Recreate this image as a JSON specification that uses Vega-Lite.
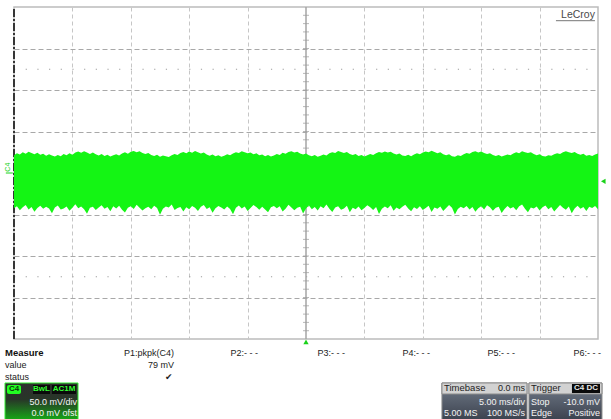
{
"$schema": "https://vega.github.io/schema/vega-lite/v6.json",
"width": 584, "height": 332,
"autosize": {"type": "none"},
"padding": {"left": 14, "top": 7, "right": 13, "bottom": 80},
"background": "white",
"config": {
  "font": "Liberation Sans",
  "view": {"stroke": "#bcbcbc", "strokeWidth": 1.5},
  "axis": {"domain": false, "ticks": false, "labels": false, "grid": false, "titleColor": "transparent"}
},
"layer": [
{
  "data": {"values": [{"v": 125}, {"v": -125}]},
  "mark": {"type": "rule", "color": "#9c9c9c", "strokeDash": [1.2, 10.48], "strokeWidth": 1},
  "encoding": {
    "x": {"datum": -25, "type": "quantitative", "scale": {"domain": [-25, 25], "nice": false, "zero": false},
          "axis": {"values": [-20, -15, -10, -5, 5, 10, 15, 20], "grid": true, "gridDash": [4, 3], "gridColor": "#c6c6c6", "gridWidth": 1, "title": null}},
    "x2": {"datum": 25},
    "y": {"field": "v", "type": "quantitative", "scale": {"domain": [-200, 200], "nice": false, "zero": false},
          "axis": {"values": [-150, -100, -50, 0, 50, 100, 150], "grid": true, "gridDash": [5, 3], "gridColor": "#a8a8a8", "gridWidth": 1, "title": null}}
  }
},
{
  "data": {"values": [{}]},
  "mark": {"type": "rule", "color": "#a4a4a4", "strokeWidth": 1.5},
  "encoding": {
    "x": {"datum": 0, "type": "quantitative", "scale": {"domain": [-25, 25], "nice": false, "zero": false}},
    "y": {"datum": -200, "type": "quantitative", "scale": {"domain": [-200, 200], "nice": false, "zero": false}},
    "y2": {"datum": 200}
  }
},
{
  "data": {"values": [{"v":-190},{"v":-180},{"v":-170},{"v":-160},{"v":-150},{"v":-140},{"v":-130},{"v":-120},{"v":-110},{"v":-100},{"v":-90},{"v":-80},{"v":-70},{"v":-60},{"v":-50},{"v":-40},{"v":-30},{"v":-20},{"v":-10},{"v":0},{"v":10},{"v":20},{"v":30},{"v":40},{"v":50},{"v":60},{"v":70},{"v":80},{"v":90},{"v":100},{"v":110},{"v":120},{"v":130},{"v":140},{"v":150},{"v":160},{"v":170},{"v":180},{"v":190}]},
  "mark": {"type": "tick", "orient": "horizontal", "size": 6, "thickness": 1, "color": "#9a9a9a"},
  "encoding": {
    "x": {"datum": 0, "type": "quantitative", "scale": {"domain": [-25, 25], "nice": false, "zero": false}},
    "y": {"field": "v", "type": "quantitative", "scale": {"domain": [-200, 200], "nice": false, "zero": false}}
  }
},
{
  "data": {"values": [{}]},
  "mark": {"type": "rule", "color": "#111111", "strokeWidth": 1.6, "strokeDash": [8, 2, 2, 2]},
  "encoding": {
    "x": {"datum": -25, "type": "quantitative", "scale": {"domain": [-25, 25], "nice": false, "zero": false}},
    "y": {"datum": -200, "type": "quantitative", "scale": {"domain": [-200, 200], "nice": false, "zero": false}},
    "y2": {"datum": 200}
  }
},
{
  "data": {"values": [
{"t":-25,"hi":21.5,"lo":-42.5},{"t":-24.75,"hi":23.8,"lo":-40.1},{"t":-24.5,"hi":22.4,"lo":-44.8},{"t":-24.25,"hi":24.9,"lo":-41.3},{"t":-24,"hi":23.1,"lo":-38.6},
{"t":-23.75,"hi":25.6,"lo":-43.9},{"t":-23.5,"hi":24.0,"lo":-41.0},{"t":-23.25,"hi":22.7,"lo":-46.7},{"t":-23,"hi":24.4,"lo":-42.2},{"t":-22.75,"hi":21.9,"lo":-39.4},
{"t":-22.5,"hi":23.2,"lo":-43.1},{"t":-22.25,"hi":20.8,"lo":-40.6},{"t":-22,"hi":22.5,"lo":-42.9},{"t":-21.75,"hi":21.0,"lo":-48.4},{"t":-21.5,"hi":19.8,"lo":-41.7},
{"t":-21.25,"hi":21.6,"lo":-39.2},{"t":-21,"hi":20.2,"lo":-44.0},{"t":-20.75,"hi":22.9,"lo":-42.8},{"t":-20.5,"hi":21.4,"lo":-40.3},{"t":-20.25,"hi":23.7,"lo":-45.5},
{"t":-20,"hi":22.1,"lo":-41.9},{"t":-19.75,"hi":24.6,"lo":-37.8},{"t":-19.5,"hi":25.9,"lo":-42.6},{"t":-19.25,"hi":24.3,"lo":-40.4},{"t":-19,"hi":26.2,"lo":-43.7},
{"t":-18.75,"hi":24.8,"lo":-49.1},{"t":-18.5,"hi":23.0,"lo":-42.0},{"t":-18.25,"hi":24.7,"lo":-40.8},{"t":-18,"hi":22.6,"lo":-44.6},{"t":-17.75,"hi":21.2,"lo":-41.5},
{"t":-17.5,"hi":22.8,"lo":-38.9},{"t":-17.25,"hi":20.5,"lo":-43.2},{"t":-17,"hi":21.9,"lo":-41.1},{"t":-16.75,"hi":19.9,"lo":-46.0},{"t":-16.5,"hi":21.3,"lo":-40.2},
{"t":-16.25,"hi":22.7,"lo":-42.7},{"t":-16,"hi":21.0,"lo":-39.5},{"t":-15.75,"hi":23.4,"lo":-44.3},{"t":-15.5,"hi":24.9,"lo":-47.6},{"t":-15.25,"hi":23.3,"lo":-41.8},
{"t":-15,"hi":25.5,"lo":-40.0},{"t":-14.75,"hi":26.6,"lo":-43.4},{"t":-14.5,"hi":24.9,"lo":-38.3},{"t":-14.25,"hi":26.1,"lo":-41.9},{"t":-14,"hi":24.2,"lo":-45.1},
{"t":-13.75,"hi":22.9,"lo":-42.4},{"t":-13.5,"hi":24.1,"lo":-40.7},{"t":-13.25,"hi":21.8,"lo":-43.8},{"t":-13,"hi":20.6,"lo":-39.6},{"t":-12.75,"hi":22.0,"lo":-42.1},
{"t":-12.5,"hi":19.7,"lo":-50.2},{"t":-12.25,"hi":21.1,"lo":-43.0},{"t":-12,"hi":20.3,"lo":-40.5},{"t":-11.75,"hi":19.4,"lo":-41.7},{"t":-11.5,"hi":21.5,"lo":-37.9},
{"t":-11.25,"hi":22.9,"lo":-44.5},{"t":-11,"hi":21.7,"lo":-42.3},{"t":-10.75,"hi":24.0,"lo":-40.9},{"t":-10.5,"hi":25.3,"lo":-46.4},{"t":-10.25,"hi":23.9,"lo":-41.4},
{"t":-10,"hi":25.8,"lo":-43.6},{"t":-9.75,"hi":24.5,"lo":-39.8},{"t":-9.5,"hi":26.4,"lo":-42.0},{"t":-9.25,"hi":25.0,"lo":-45.8},{"t":-9,"hi":23.4,"lo":-40.6},
{"t":-8.75,"hi":24.6,"lo":-38.5},{"t":-8.5,"hi":22.2,"lo":-43.3},{"t":-8.25,"hi":20.9,"lo":-41.2},{"t":-8,"hi":22.3,"lo":-47.9},{"t":-7.75,"hi":20.1,"lo":-42.5},
{"t":-7.5,"hi":21.4,"lo":-39.9},{"t":-7.25,"hi":19.6,"lo":-41.6},{"t":-7,"hi":20.8,"lo":-44.1},{"t":-6.75,"hi":22.6,"lo":-40.4},{"t":-6.5,"hi":21.5,"lo":-43.5},
{"t":-6.25,"hi":23.6,"lo":-49.6},{"t":-6,"hi":25.0,"lo":-41.8},{"t":-5.75,"hi":24.1,"lo":-39.1},{"t":-5.5,"hi":26.3,"lo":-42.9},{"t":-5.25,"hi":25.1,"lo":-40.3},
{"t":-5,"hi":23.9,"lo":-45.7},{"t":-4.75,"hi":24.8,"lo":-42.2},{"t":-4.5,"hi":22.5,"lo":-38.7},{"t":-4.25,"hi":23.7,"lo":-41.0},{"t":-4,"hi":21.3,"lo":-44.4},
{"t":-3.75,"hi":22.4,"lo":-40.8},{"t":-3.5,"hi":20.2,"lo":-43.9},{"t":-3.25,"hi":21.6,"lo":-47.2},{"t":-3,"hi":19.8,"lo":-41.3},{"t":-2.75,"hi":21.2,"lo":-39.7},
{"t":-2.5,"hi":22.9,"lo":-42.6},{"t":-2.25,"hi":21.8,"lo":-40.1},{"t":-2,"hi":24.3,"lo":-46.5},{"t":-1.75,"hi":23.1,"lo":-43.2},{"t":-1.5,"hi":25.4,"lo":-38.4},
{"t":-1.25,"hi":26.2,"lo":-41.5},{"t":-1,"hi":24.6,"lo":-44.9},{"t":-0.75,"hi":25.7,"lo":-42.0},{"t":-0.5,"hi":23.5,"lo":-40.6},{"t":-0.25,"hi":22.3,"lo":-48.8},
{"t":0,"hi":23.6,"lo":-42.7},{"t":0.25,"hi":21.4,"lo":-39.3},{"t":0.5,"hi":20.3,"lo":-43.7},{"t":0.75,"hi":21.7,"lo":-41.1},{"t":1,"hi":19.5,"lo":-45.3},
{"t":1.25,"hi":20.9,"lo":-40.2},{"t":1.5,"hi":22.4,"lo":-42.4},{"t":1.75,"hi":21.2,"lo":-38.1},{"t":2,"hi":23.8,"lo":-43.0},{"t":2.25,"hi":25.1,"lo":-46.9},
{"t":2.5,"hi":24.0,"lo":-41.6},{"t":2.75,"hi":26.5,"lo":-40.0},{"t":3,"hi":25.2,"lo":-44.2},{"t":3.25,"hi":24.1,"lo":-42.9},{"t":3.5,"hi":25.3,"lo":-39.6},
{"t":3.75,"hi":23.0,"lo":-47.4},{"t":4,"hi":21.7,"lo":-41.9},{"t":4.25,"hi":22.9,"lo":-43.6},{"t":4.5,"hi":20.6,"lo":-40.5},{"t":4.75,"hi":21.8,"lo":-45.0},
{"t":5,"hi":20.0,"lo":-42.1},{"t":5.25,"hi":21.5,"lo":-38.8},{"t":5.5,"hi":22.8,"lo":-41.4},{"t":5.75,"hi":21.6,"lo":-44.6},{"t":6,"hi":23.9,"lo":-40.9},
{"t":6.25,"hi":25.2,"lo":-49.3},{"t":6.5,"hi":24.3,"lo":-43.1},{"t":6.75,"hi":26.0,"lo":-40.3},{"t":7,"hi":24.7,"lo":-42.5},{"t":7.25,"hi":25.6,"lo":-39.0},
{"t":7.5,"hi":23.6,"lo":-45.6},{"t":7.75,"hi":22.4,"lo":-41.7},{"t":8,"hi":23.5,"lo":-43.8},{"t":8.25,"hi":21.2,"lo":-40.7},{"t":8.5,"hi":20.4,"lo":-38.2},
{"t":8.75,"hi":21.9,"lo":-42.8},{"t":9,"hi":20.1,"lo":-46.1},{"t":9.25,"hi":22.3,"lo":-41.2},{"t":9.5,"hi":23.7,"lo":-43.4},{"t":9.75,"hi":22.6,"lo":-40.0},
{"t":10,"hi":24.8,"lo":-44.7},{"t":10.25,"hi":26.0,"lo":-42.3},{"t":10.5,"hi":24.9,"lo":-39.4},{"t":10.75,"hi":26.7,"lo":-47.0},{"t":11,"hi":25.3,"lo":-41.5},
{"t":11.25,"hi":23.8,"lo":-43.0},{"t":11.5,"hi":24.9,"lo":-40.4},{"t":11.75,"hi":22.6,"lo":-45.9},{"t":12,"hi":21.3,"lo":-42.2},{"t":12.25,"hi":22.5,"lo":-38.6},
{"t":12.5,"hi":20.2,"lo":-41.8},{"t":12.75,"hi":19.7,"lo":-50.0},{"t":13,"hi":21.4,"lo":-43.3},{"t":13.25,"hi":20.6,"lo":-40.8},{"t":13.5,"hi":22.7,"lo":-42.6},
{"t":13.75,"hi":24.1,"lo":-39.7},{"t":14,"hi":23.2,"lo":-44.0},{"t":14.25,"hi":25.4,"lo":-41.0},{"t":14.5,"hi":26.1,"lo":-46.6},{"t":14.75,"hi":24.7,"lo":-42.4},
{"t":15,"hi":25.9,"lo":-40.1},{"t":15.25,"hi":24.2,"lo":-43.9},{"t":15.5,"hi":22.9,"lo":-38.9},{"t":15.75,"hi":23.9,"lo":-41.3},{"t":16,"hi":21.6,"lo":-45.4},
{"t":16.25,"hi":20.5,"lo":-42.0},{"t":16.5,"hi":21.8,"lo":-40.6},{"t":16.75,"hi":19.9,"lo":-48.1},{"t":17,"hi":21.0,"lo":-43.5},{"t":17.25,"hi":22.4,"lo":-39.8},
{"t":17.5,"hi":21.3,"lo":-42.7},{"t":17.75,"hi":23.6,"lo":-41.1},{"t":18,"hi":24.9,"lo":-44.8},{"t":18.25,"hi":23.8,"lo":-40.2},{"t":18.5,"hi":26.3,"lo":-38.0},
{"t":18.75,"hi":25.0,"lo":-43.2},{"t":19,"hi":24.0,"lo":-47.3},{"t":19.25,"hi":25.1,"lo":-41.7},{"t":19.5,"hi":22.8,"lo":-42.9},{"t":19.75,"hi":21.5,"lo":-40.5},
{"t":20,"hi":22.6,"lo":-45.2},{"t":20.25,"hi":20.4,"lo":-41.4},{"t":20.5,"hi":19.8,"lo":-39.2},{"t":20.75,"hi":21.3,"lo":-43.7},{"t":21,"hi":20.7,"lo":-40.9},
{"t":21.25,"hi":22.5,"lo":-46.3},{"t":21.5,"hi":23.9,"lo":-42.5},{"t":21.75,"hi":22.8,"lo":-38.7},{"t":22,"hi":25.0,"lo":-41.9},{"t":22.25,"hi":26.2,"lo":-44.3},
{"t":22.5,"hi":25.1,"lo":-40.4},{"t":22.75,"hi":24.0,"lo":-48.6},{"t":23,"hi":25.4,"lo":-42.8},{"t":23.25,"hi":23.3,"lo":-39.5},{"t":23.5,"hi":22.1,"lo":-43.1},
{"t":23.75,"hi":23.2,"lo":-41.0},{"t":24,"hi":20.9,"lo":-45.8},{"t":24.25,"hi":21.8,"lo":-40.7},{"t":24.5,"hi":20.6,"lo":-42.2},{"t":24.75,"hi":22.4,"lo":-39.9},
{"t":25,"hi":23.5,"lo":-43.6}
  ]},
  "mark": {"type": "area", "color": "#14f514", "opacity": 1, "interpolate": "linear"},
  "encoding": {
    "x": {"field": "t", "type": "quantitative", "scale": {"domain": [-25, 25], "nice": false, "zero": false}},
    "y": {"field": "hi", "type": "quantitative", "scale": {"domain": [-200, 200], "nice": false, "zero": false}},
    "y2": {"field": "lo"}
  }
},
{
  "data": {"values": [{"t": -25.55, "v": 7, "label": "C4"}]},
  "mark": {"type": "text", "angle": 270, "fontSize": 7, "color": "#1ad21a", "align": "center", "baseline": "middle"},
  "encoding": {
    "x": {"field": "t", "type": "quantitative", "scale": {"domain": [-25, 25], "nice": false, "zero": false}},
    "y": {"field": "v", "type": "quantitative", "scale": {"domain": [-200, 200], "nice": false, "zero": false}},
    "text": {"field": "label"}
  }
},
{
  "data": {"values": [{}]},
  "mark": {"type": "rule", "color": "#1ad21a", "strokeWidth": 1},
  "encoding": {
    "x": {"datum": -25.7, "type": "quantitative", "scale": {"domain": [-25, 25], "nice": false, "zero": false}},
    "x2": {"datum": -25.1},
    "y": {"datum": 0, "type": "quantitative", "scale": {"domain": [-200, 200], "nice": false, "zero": false}}
  }
},
{
  "data": {"values": [{"t": 25.45, "v": -10, "s": "triangle-left"}, {"t": 0, "v": -203.5, "s": "triangle-up"}]},
  "mark": {"type": "point", "filled": true, "size": 28, "color": "#1ad21a", "opacity": 1},
  "encoding": {
    "x": {"field": "t", "type": "quantitative", "scale": {"domain": [-25, 25], "nice": false, "zero": false}},
    "y": {"field": "v", "type": "quantitative", "scale": {"domain": [-200, 200], "nice": false, "zero": false}},
    "shape": {"field": "s", "type": "nominal", "scale": {"domain": ["triangle-left", "triangle-up"], "range": ["triangle-left", "triangle-up"]}, "legend": null}
  }
},
{
  "data": {"values": [{"t": 24.74, "v": 190.4, "label": "LeCroy"}]},
  "mark": {"type": "text", "fontSize": 10.5, "color": "#4a4a4a", "align": "right", "baseline": "middle"},
  "encoding": {
    "x": {"field": "t", "type": "quantitative", "scale": {"domain": [-25, 25], "nice": false, "zero": false}},
    "y": {"field": "v", "type": "quantitative", "scale": {"domain": [-200, 200], "nice": false, "zero": false}},
    "text": {"field": "label"}
  }
},
{
  "data": {"values": [{}]},
  "mark": {"type": "rule", "color": "#777777", "strokeWidth": 1},
  "encoding": {
    "x": {"datum": 21.4, "type": "quantitative", "scale": {"domain": [-25, 25], "nice": false, "zero": false}},
    "x2": {"datum": 24.74},
    "y": {"datum": 183.5, "type": "quantitative", "scale": {"domain": [-200, 200], "nice": false, "zero": false}}
  }
},
{
  "data": {"values": [{"t": -25.77, "v": -216.9, "label": "Measure"}]},
  "mark": {"type": "text", "fontSize": 9.5, "fontWeight": "bold", "color": "#111111", "align": "left", "baseline": "middle"},
  "encoding": {
    "x": {"field": "t", "type": "quantitative", "scale": {"domain": [-25, 25], "nice": false, "zero": false}},
    "y": {"field": "v", "type": "quantitative", "scale": {"domain": [-200, 200], "nice": false, "zero": false}},
    "text": {"field": "label"}
  }
},
{
  "data": {"values": [{"t": -25.77, "v": -231.3, "label": "value"}, {"t": -25.77, "v": -245.8, "label": "status"}]},
  "mark": {"type": "text", "fontSize": 9, "color": "#222222", "align": "left", "baseline": "middle"},
  "encoding": {
    "x": {"field": "t", "type": "quantitative", "scale": {"domain": [-25, 25], "nice": false, "zero": false}},
    "y": {"field": "v", "type": "quantitative", "scale": {"domain": [-200, 200], "nice": false, "zero": false}},
    "text": {"field": "label"}
  }
},
{
  "data": {"values": [
    {"t": -11.3, "v": -216.9, "label": "P1:pkpk(C4)"},
    {"t": -11.3, "v": -231.3, "label": "79 mV"},
    {"t": -4.11, "v": -216.9, "label": "P2:- - -"},
    {"t": 3.34, "v": -216.9, "label": "P3:- - -"},
    {"t": 10.62, "v": -216.9, "label": "P4:- - -"},
    {"t": 17.89, "v": -216.9, "label": "P5:- - -"},
    {"t": 25.26, "v": -216.9, "label": "P6:- - -"}
  ]},
  "mark": {"type": "text", "fontSize": 9, "color": "#222222", "align": "right", "baseline": "middle"},
  "encoding": {
    "x": {"field": "t", "type": "quantitative", "scale": {"domain": [-25, 25], "nice": false, "zero": false}},
    "y": {"field": "v", "type": "quantitative", "scale": {"domain": [-200, 200], "nice": false, "zero": false}},
    "text": {"field": "label"}
  }
},
{
  "data": {"values": [{"t": -11.75, "v": -245.8, "label": "✔"}]},
  "mark": {"type": "text", "font": "DejaVu Sans", "fontSize": 9, "color": "#222222", "align": "center", "baseline": "middle"},
  "encoding": {
    "x": {"field": "t", "type": "quantitative", "scale": {"domain": [-25, 25], "nice": false, "zero": false}},
    "y": {"field": "v", "type": "quantitative", "scale": {"domain": [-200, 200], "nice": false, "zero": false}},
    "text": {"field": "label"}
  }
},
{
  "data": {"values": [{"t": -25.77, "t2": -19.52, "v": -253, "v2": -297}]},
  "mark": {"type": "rect", "stroke": "#33ee33", "strokeWidth": 1,
    "fill": {"gradient": "linear", "x1": 0, "y1": 0, "x2": 0, "y2": 1, "stops": [{"offset": 0, "color": "#2e2e2e"}, {"offset": 0.45, "color": "#283628"}, {"offset": 1, "color": "#16a616"}]}},
  "encoding": {
    "x": {"field": "t", "type": "quantitative", "scale": {"domain": [-25, 25], "nice": false, "zero": false}},
    "x2": {"field": "t2"},
    "y": {"field": "v", "type": "quantitative", "scale": {"domain": [-200, 200], "nice": false, "zero": false}},
    "y2": {"field": "v2"}
  }
},
{
  "data": {"values": [{"t": 11.64, "t2": 18.92, "v": -253, "v2": -297}, {"t": 19.09, "t2": 25.34, "v": -253, "v2": -297}]},
  "mark": {"type": "rect", "stroke": "#8a8a8a", "strokeWidth": 1,
    "fill": {"gradient": "linear", "x1": 0, "y1": 0, "x2": 0, "y2": 1, "stops": [{"offset": 0, "color": "#727b8a"}, {"offset": 1, "color": "#3c434f"}]}},
  "encoding": {
    "x": {"field": "t", "type": "quantitative", "scale": {"domain": [-25, 25], "nice": false, "zero": false}},
    "x2": {"field": "t2"},
    "y": {"field": "v", "type": "quantitative", "scale": {"domain": [-200, 200], "nice": false, "zero": false}},
    "y2": {"field": "v2"}
  }
},
{
  "data": {"values": [{"t": 11.64, "t2": 18.92, "v": -253, "v2": -266.3}, {"t": 19.09, "t2": 25.34, "v": -253, "v2": -266.3}]},
  "mark": {"type": "rect", "fill": "#d2d2d2", "stroke": "#8a8a8a", "strokeWidth": 1},
  "encoding": {
    "x": {"field": "t", "type": "quantitative", "scale": {"domain": [-25, 25], "nice": false, "zero": false}},
    "x2": {"field": "t2"},
    "y": {"field": "v", "type": "quantitative", "scale": {"domain": [-200, 200], "nice": false, "zero": false}},
    "y2": {"field": "v2"}
  }
},
{
  "data": {"values": [{"t": -25.6, "t2": -24.4, "v": -255.4, "v2": -266.3}]},
  "mark": {"type": "rect", "fill": "#22ff22", "cornerRadius": 2},
  "encoding": {
    "x": {"field": "t", "type": "quantitative", "scale": {"domain": [-25, 25], "nice": false, "zero": false}},
    "x2": {"field": "t2"},
    "y": {"field": "v", "type": "quantitative", "scale": {"domain": [-200, 200], "nice": false, "zero": false}},
    "y2": {"field": "v2"}
  }
},
{
  "data": {"values": [
    {"t": -23.37, "t2": -21.92, "v": -255.4, "v2": -266.3},
    {"t": -21.75, "t2": -19.69, "v": -255.4, "v2": -266.3},
    {"t": 22.77, "t2": 25.17, "v": -254.2, "v2": -265.1}
  ]},
  "mark": {"type": "rect", "fill": "#0a0a0a"},
  "encoding": {
    "x": {"field": "t", "type": "quantitative", "scale": {"domain": [-25, 25], "nice": false, "zero": false}},
    "x2": {"field": "t2"},
    "y": {"field": "v", "type": "quantitative", "scale": {"domain": [-200, 200], "nice": false, "zero": false}},
    "y2": {"field": "v2"}
  }
},
{
  "data": {"values": [{"t": -25.0, "v": -260.8, "label": "C4"}]},
  "mark": {"type": "text", "fontSize": 8, "fontWeight": "bold", "color": "#0a3a0a", "align": "center", "baseline": "middle"},
  "encoding": {
    "x": {"field": "t", "type": "quantitative", "scale": {"domain": [-25, 25], "nice": false, "zero": false}},
    "y": {"field": "v", "type": "quantitative", "scale": {"domain": [-200, 200], "nice": false, "zero": false}},
    "text": {"field": "label"}
  }
},
{
  "data": {"values": [{"t": -22.65, "v": -260.8, "label": "BwL"}, {"t": -20.72, "v": -260.8, "label": "AC1M"}]},
  "mark": {"type": "text", "fontSize": 8, "fontWeight": "bold", "color": "#33ff33", "align": "center", "baseline": "middle"},
  "encoding": {
    "x": {"field": "t", "type": "quantitative", "scale": {"domain": [-25, 25], "nice": false, "zero": false}},
    "y": {"field": "v", "type": "quantitative", "scale": {"domain": [-200, 200], "nice": false, "zero": false}},
    "text": {"field": "label"}
  }
},
{
  "data": {"values": [{"t": 23.97, "v": -259.6, "label": "C4 DC"}]},
  "mark": {"type": "text", "fontSize": 8, "fontWeight": "bold", "color": "#e8e8e8", "align": "center", "baseline": "middle"},
  "encoding": {
    "x": {"field": "t", "type": "quantitative", "scale": {"domain": [-25, 25], "nice": false, "zero": false}},
    "y": {"field": "v", "type": "quantitative", "scale": {"domain": [-200, 200], "nice": false, "zero": false}},
    "text": {"field": "label"}
  }
},
{
  "data": {"values": [{"t": 11.82, "v": -259.6, "label": "Timebase"}, {"t": 19.26, "v": -259.6, "label": "Trigger"}]},
  "mark": {"type": "text", "fontSize": 9.5, "color": "#1e1e1e", "align": "left", "baseline": "middle"},
  "encoding": {
    "x": {"field": "t", "type": "quantitative", "scale": {"domain": [-25, 25], "nice": false, "zero": false}},
    "y": {"field": "v", "type": "quantitative", "scale": {"domain": [-200, 200], "nice": false, "zero": false}},
    "text": {"field": "label"}
  }
},
{
  "data": {"values": [{"t": 18.75, "v": -259.6, "label": "0.0 ms"}]},
  "mark": {"type": "text", "fontSize": 9, "color": "#1e1e1e", "align": "right", "baseline": "middle"},
  "encoding": {
    "x": {"field": "t", "type": "quantitative", "scale": {"domain": [-25, 25], "nice": false, "zero": false}},
    "y": {"field": "v", "type": "quantitative", "scale": {"domain": [-200, 200], "nice": false, "zero": false}},
    "text": {"field": "label"}
  }
},
{
  "data": {"values": [
    {"t": -19.61, "v": -275.9, "label": "50.0 mV/div"},
    {"t": -19.61, "v": -289.2, "label": "0.0 mV ofst"},
    {"t": 18.75, "v": -275.9, "label": "5.00 ms/div"},
    {"t": 18.75, "v": -288.6, "label": "100 MS/s"},
    {"t": 25.17, "v": -275.9, "label": "-10.0 mV"},
    {"t": 25.17, "v": -288.6, "label": "Positive"}
  ]},
  "mark": {"type": "text", "fontSize": 9, "color": "#f4f4f4", "align": "right", "baseline": "middle"},
  "encoding": {
    "x": {"field": "t", "type": "quantitative", "scale": {"domain": [-25, 25], "nice": false, "zero": false}},
    "y": {"field": "v", "type": "quantitative", "scale": {"domain": [-200, 200], "nice": false, "zero": false}},
    "text": {"field": "label"}
  }
},
{
  "data": {"values": [
    {"t": 11.82, "v": -288.6, "label": "5.00 MS"},
    {"t": 19.26, "v": -275.9, "label": "Stop"},
    {"t": 19.26, "v": -288.6, "label": "Edge"}
  ]},
  "mark": {"type": "text", "fontSize": 9, "color": "#f4f4f4", "align": "left", "baseline": "middle"},
  "encoding": {
    "x": {"field": "t", "type": "quantitative", "scale": {"domain": [-25, 25], "nice": false, "zero": false}},
    "y": {"field": "v", "type": "quantitative", "scale": {"domain": [-200, 200], "nice": false, "zero": false}},
    "text": {"field": "label"}
  }
}
]
}
